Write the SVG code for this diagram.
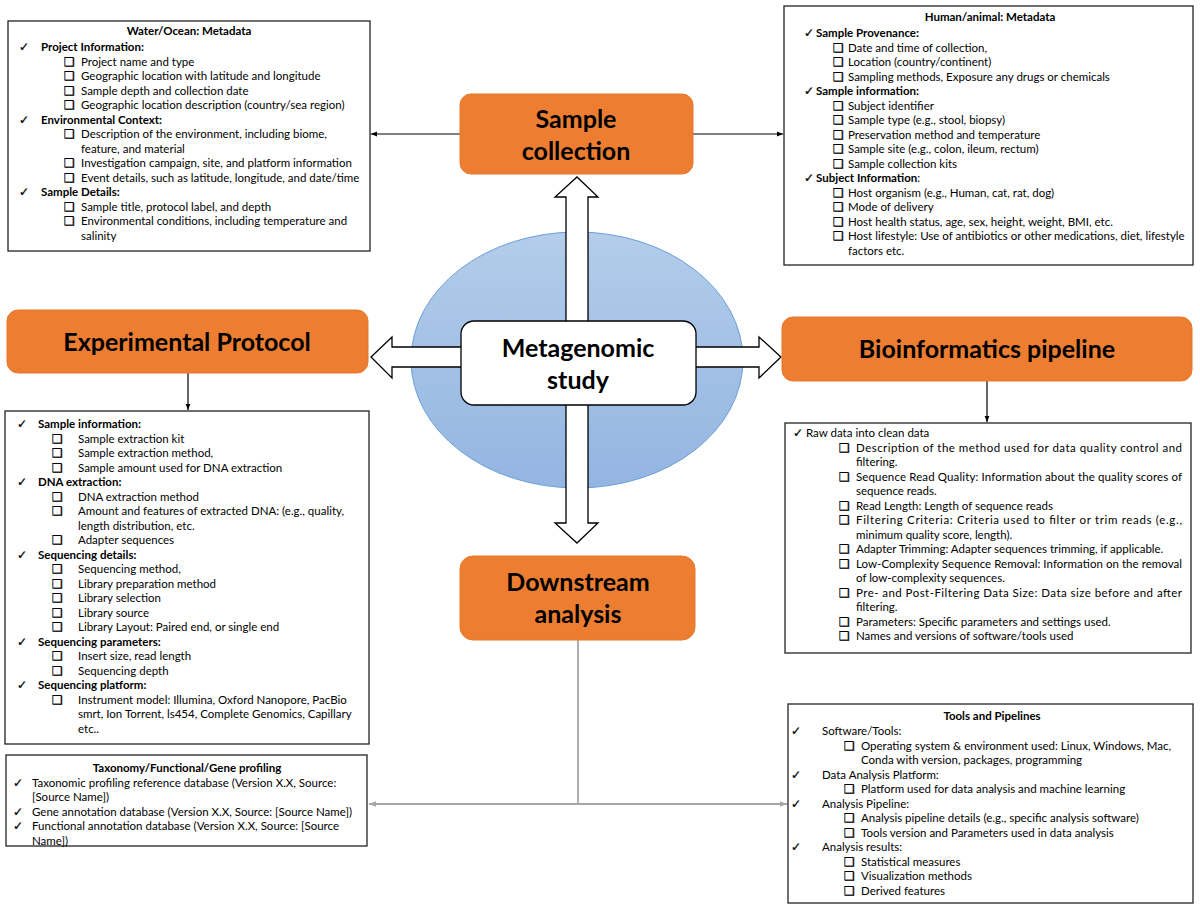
<svg xmlns="http://www.w3.org/2000/svg" width="1200" height="910" viewBox="0 0 1200 910">
<defs>
<style>
.t{font-family:Lato,"Liberation Sans",sans-serif;font-size:11.5px;fill:#000}
.b{font-weight:bold}
.m{text-anchor:middle}
.s{font-family:"DejaVu Sans",sans-serif;font-size:12px;fill:#000;stroke:#000;stroke-width:0.3}
.box{fill:#fff;stroke:#222;stroke-width:1.3}
.org{fill:#ED7D31;stroke:#E8792C;stroke-width:1}
.ot{font-family:Lato,"Liberation Sans",sans-serif;font-weight:bold;font-size:25px;fill:#000;text-anchor:middle}
.blk{fill:#fff;stroke:#000;stroke-width:1.3}
.ln{stroke:#000;stroke-width:1.2;fill:none}
.gl{stroke:#a6a6a6;stroke-width:1.8;fill:none}
</style>
<linearGradient id="eg" x1="0" y1="0" x2="0" y2="1">
<stop offset="0" stop-color="#b3cdea"/>
<stop offset="1" stop-color="#93b5e1"/>
</linearGradient>
<marker id="ah" viewBox="0 0 10 10" refX="10" refY="5" markerWidth="6" markerHeight="6" orient="auto-start-reverse" markerUnits="userSpaceOnUse">
<path d="M0,1 L10,5 L0,9 z" fill="#000"/>
</marker>
<marker id="gh" viewBox="0 0 10 10" refX="10" refY="5" markerWidth="7" markerHeight="7" orient="auto-start-reverse" markerUnits="userSpaceOnUse">
<path d="M0,1 L10,5 L0,9 z" fill="#a6a6a6"/>
</marker>
</defs>
<rect width="1200" height="910" fill="#fff"/>

<g id="ellipse">
<ellipse cx="577" cy="360" rx="166" ry="128" fill="url(#eg)" stroke="#6a9fd8" stroke-width="1"/>
</g>

<g id="connectors">
<polygon class="blk" points="566,330 566,197 555,197 577,177 598,197 588,197 588,330"/>
<polygon class="blk" points="566,398 566,523 555,523 577,543 598,523 588,523 588,398"/>
<polygon class="blk" points="470,347 392,347 392,337 371,357 392,378 392,367 470,367"/>
<polygon class="blk" points="688,347 759,347 759,337 781,357 759,378 759,367 688,367"/>
<line class="ln" x1="460" y1="134" x2="371" y2="134" marker-end="url(#ah)"/>
<line class="ln" x1="693" y1="134" x2="783" y2="134" marker-end="url(#ah)"/>
<line class="ln" x1="188" y1="373" x2="188" y2="410" marker-end="url(#ah)"/>
<line class="ln" x1="987" y1="381" x2="987" y2="422" marker-end="url(#ah)"/>
<line class="gl" x1="578" y1="640" x2="578" y2="804"/>
<line class="gl" x1="369" y1="804" x2="787" y2="804" marker-start="url(#gh)" marker-end="url(#gh)"/>
</g>

<g id="center">
<rect x="461" y="321" width="235" height="84" rx="13" fill="#fff" stroke="#000" stroke-width="1.3"/>
<text class="ot" x="578" y="357" font-size="27">Metagenomic</text>
<text class="ot" x="578" y="389" font-size="27">study</text>
</g>

<g id="sample-collection">
<rect class="org" x="460" y="94" width="233" height="80" rx="11"/>
<text class="ot" x="576" y="128">Sample</text>
<text class="ot" x="576" y="160">collection</text>
</g>

<g id="experimental-protocol">
<rect class="org" x="7" y="310" width="361" height="63" rx="11"/>
<text class="ot" x="187" y="351">Experimental Protocol</text>
</g>

<g id="bioinformatics-pipeline">
<rect class="org" x="782" y="317" width="410" height="64" rx="11"/>
<text class="ot" x="987" y="358">Bioinformatics pipeline</text>
</g>

<g id="downstream-analysis">
<rect class="org" x="460" y="556" width="235" height="84" rx="13"/>
<text class="ot" x="578" y="591">Downstream</text>
<text class="ot" x="578" y="623">analysis</text>
</g>

<g id="water-ocean-metadata">
<rect class="box" x="8" y="21" width="362" height="230"/>
<text class="t b m" x="189" y="35">Water/Ocean: Metadata</text>
<text class="s" x="19" y="51">✓</text><text class="t b" x="41" y="51">Project Information:</text>
<text class="s" x="64" y="65.5">❑</text><text class="t" x="81" y="65.5">Project name and type</text>
<text class="s" x="64" y="80">❑</text><text class="t" x="81" y="80">Geographic location with latitude and longitude</text>
<text class="s" x="64" y="94.5">❑</text><text class="t" x="81" y="94.5">Sample depth and collection date</text>
<text class="s" x="64" y="109">❑</text><text class="t" x="81" y="109">Geographic location description (country/sea region)</text>
<text class="s" x="19" y="123.5">✓</text><text class="t b" x="41" y="123.5">Environmental Context:</text>
<text class="s" x="64" y="138">❑</text><text class="t" x="81" y="138">Description of the environment, including biome,</text>
<text class="t" x="81" y="152.5">feature, and material</text>
<text class="s" x="64" y="167">❑</text><text class="t" x="81" y="167">Investigation campaign, site, and platform information</text>
<text class="s" x="64" y="181.5">❑</text><text class="t" x="81" y="181.5">Event details, such as latitude, longitude, and date/time</text>
<text class="s" x="19" y="196">✓</text><text class="t b" x="41" y="196">Sample Details:</text>
<text class="s" x="64" y="210.5">❑</text><text class="t" x="81" y="210.5">Sample title, protocol label, and depth</text>
<text class="s" x="64" y="225">❑</text><text class="t" x="81" y="225">Environmental conditions, including temperature and</text>
<text class="t" x="81" y="239.5">salinity</text>
</g>

<g id="human-animal-metadata">
<rect class="box" x="784" y="6" width="409" height="259"/>
<text class="t b m" x="990" y="21">Human/animal: Metadata</text>
<text class="s" x="804" y="37">✓</text><text class="t b" x="816" y="37">Sample Provenance:</text>
<text class="s" x="833" y="51.5">❑</text><text class="t" x="848" y="51.5">Date and time of collection,</text>
<text class="s" x="833" y="66">❑</text><text class="t" x="848" y="66">Location (country/continent)</text>
<text class="s" x="833" y="80.5">❑</text><text class="t" x="848" y="80.5">Sampling methods, Exposure any drugs or chemicals</text>
<text class="s" x="804" y="95">✓</text><text class="t b" x="816" y="95">Sample information:</text>
<text class="s" x="833" y="109.5">❑</text><text class="t" x="848" y="109.5">Subject identifier</text>
<text class="s" x="833" y="124">❑</text><text class="t" x="848" y="124">Sample type (e.g., stool, biopsy)</text>
<text class="s" x="833" y="138.5">❑</text><text class="t" x="848" y="138.5">Preservation method and temperature</text>
<text class="s" x="833" y="153">❑</text><text class="t" x="848" y="153">Sample site (e.g., colon, ileum, rectum)</text>
<text class="s" x="833" y="167.5">❑</text><text class="t" x="848" y="167.5">Sample collection kits</text>
<text class="s" x="804" y="182">✓</text><text class="t" x="816" y="182"><tspan font-weight="bold">Subject Information</tspan>:</text>
<text class="s" x="833" y="196.5">❑</text><text class="t" x="848" y="196.5">Host organism (e.g., Human, cat, rat, dog)</text>
<text class="s" x="833" y="211">❑</text><text class="t" x="848" y="211">Mode of delivery</text>
<text class="s" x="833" y="225.5">❑</text><text class="t" x="848" y="225.5">Host health status, age, sex, height, weight, BMI, etc.</text>
<text class="s" x="833" y="240">❑</text><text class="t" x="848" y="240">Host lifestyle: Use of antibiotics or other medications, diet, lifestyle</text>
<text class="t" x="848" y="254.5">factors etc.</text>
</g>

<g id="experimental-details">
<rect class="box" x="5" y="411" width="364" height="333"/>
<text class="s" x="17" y="428">✓</text><text class="t b" x="38" y="428">Sample information:</text>
<text class="s" x="52" y="442.5">❑</text><text class="t" x="78" y="442.5">Sample extraction kit</text>
<text class="s" x="52" y="457">❑</text><text class="t" x="78" y="457">Sample extraction method,</text>
<text class="s" x="52" y="471.5">❑</text><text class="t" x="78" y="471.5">Sample amount used for DNA extraction</text>
<text class="s" x="17" y="486">✓</text><text class="t b" x="38" y="486">DNA extraction:</text>
<text class="s" x="52" y="500.5">❑</text><text class="t" x="78" y="500.5">DNA extraction method</text>
<text class="s" x="52" y="515">❑</text><text class="t" x="78" y="515">Amount and features of extracted DNA: (e.g., quality,</text>
<text class="t" x="78" y="529.5">length distribution, etc.</text>
<text class="s" x="52" y="544">❑</text><text class="t" x="78" y="544">Adapter sequences</text>
<text class="s" x="17" y="558.5">✓</text><text class="t b" x="38" y="558.5">Sequencing details:</text>
<text class="s" x="52" y="573">❑</text><text class="t" x="78" y="573">Sequencing method,</text>
<text class="s" x="52" y="587.5">❑</text><text class="t" x="78" y="587.5">Library preparation method</text>
<text class="s" x="52" y="602">❑</text><text class="t" x="78" y="602">Library selection</text>
<text class="s" x="52" y="616.5">❑</text><text class="t" x="78" y="616.5">Library source</text>
<text class="s" x="52" y="631">❑</text><text class="t" x="78" y="631">Library Layout: Paired end, or single end</text>
<text class="s" x="17" y="645.5">✓</text><text class="t b" x="38" y="645.5">Sequencing parameters:</text>
<text class="s" x="52" y="660">❑</text><text class="t" x="78" y="660">Insert size, read length</text>
<text class="s" x="52" y="674.5">❑</text><text class="t" x="78" y="674.5">Sequencing depth</text>
<text class="s" x="17" y="689">✓</text><text class="t b" x="38" y="689">Sequencing platform:</text>
<text class="s" x="52" y="703.5">❑</text><text class="t" x="78" y="703.5">Instrument model: Illumina, Oxford Nanopore, PacBio</text>
<text class="t" x="78" y="718">smrt, Ion Torrent, ls454, Complete Genomics, Capillary</text>
<text class="t" x="78" y="732.5">etc..</text>
</g>

<g id="bioinformatics-details">
<rect class="box" x="785" y="423" width="406" height="230"/>
<text class="s" x="793" y="437">✓</text><text class="t" x="806" y="437">Raw data into clean data</text>
<text class="s" x="839" y="451.5">❑</text><text class="t" x="856" y="451.5" textLength="326" lengthAdjust="spacing">Description of the method used for data quality control and</text>
<text class="t" x="856" y="466">filtering.</text>
<text class="s" x="839" y="480.5">❑</text><text class="t" x="856" y="480.5" textLength="326" lengthAdjust="spacing">Sequence Read Quality: Information about the quality scores of</text>
<text class="t" x="856" y="495">sequence reads.</text>
<text class="s" x="839" y="509.5">❑</text><text class="t" x="856" y="509.5">Read Length: Length of sequence reads</text>
<text class="s" x="839" y="524">❑</text><text class="t" x="856" y="524" textLength="326" lengthAdjust="spacing">Filtering Criteria: Criteria used to filter or trim reads (e.g.,</text>
<text class="t" x="856" y="538.5">minimum quality score, length).</text>
<text class="s" x="839" y="553">❑</text><text class="t" x="856" y="553">Adapter Trimming: Adapter sequences trimming, if applicable.</text>
<text class="s" x="839" y="567.5">❑</text><text class="t" x="856" y="567.5" textLength="326" lengthAdjust="spacing">Low-Complexity Sequence Removal: Information on the removal</text>
<text class="t" x="856" y="582">of low-complexity sequences.</text>
<text class="s" x="839" y="596.5">❑</text><text class="t" x="856" y="596.5" textLength="326" lengthAdjust="spacing">Pre- and Post-Filtering Data Size: Data size before and after</text>
<text class="t" x="856" y="611">filtering.</text>
<text class="s" x="839" y="625.5">❑</text><text class="t" x="856" y="625.5">Parameters: Specific parameters and settings used.</text>
<text class="s" x="839" y="640">❑</text><text class="t" x="856" y="640">Names and versions of software/tools used</text>
</g>

<g id="taxonomy-profiling">
<rect class="box" x="6" y="755" width="361" height="91"/>
<text class="t b m" x="187" y="772">Taxonomy/Functional/Gene profiling</text>
<text class="s" x="13" y="786.5">✓</text><text class="t" x="32" y="786.5">Taxonomic profiling reference database (Version X.X, Source:</text>
<text class="t" x="32" y="801">[Source Name])</text>
<text class="s" x="13" y="815.5">✓</text><text class="t" x="32" y="815.5">Gene annotation database (Version X.X, Source: [Source Name])</text>
<text class="s" x="13" y="830">✓</text><text class="t" x="32" y="830">Functional annotation database (Version X.X, Source: [Source</text>
<text class="t" x="32" y="844.5">Name])</text>
</g>

<g id="tools-pipelines">
<rect class="box" x="788" y="704" width="405" height="199"/>
<text class="t b m" x="992" y="720">Tools and Pipelines</text>
<text class="s" x="791" y="735">✓</text><text class="t" x="822" y="735">Software/Tools:</text>
<text class="s" x="844" y="749.5">❑</text><text class="t" x="861" y="749.5">Operating system &amp; environment used: Linux, Windows, Mac,</text>
<text class="t" x="861" y="764">Conda with version, packages, programming</text>
<text class="s" x="791" y="778.5">✓</text><text class="t" x="822" y="778.5">Data Analysis Platform:</text>
<text class="s" x="844" y="793">❑</text><text class="t" x="861" y="793">Platform used for data analysis and machine learning</text>
<text class="s" x="791" y="807.5">✓</text><text class="t" x="822" y="807.5">Analysis Pipeline:</text>
<text class="s" x="844" y="822">❑</text><text class="t" x="861" y="822">Analysis pipeline details (e.g., specific analysis software)</text>
<text class="s" x="844" y="836.5">❑</text><text class="t" x="861" y="836.5">Tools version and Parameters used in data analysis</text>
<text class="s" x="791" y="851">✓</text><text class="t" x="822" y="851">Analysis results:</text>
<text class="s" x="844" y="865.5">❑</text><text class="t" x="861" y="865.5">Statistical measures</text>
<text class="s" x="844" y="880">❑</text><text class="t" x="861" y="880">Visualization methods</text>
<text class="s" x="844" y="894.5">❑</text><text class="t" x="861" y="894.5">Derived features</text>
</g>
</svg>
